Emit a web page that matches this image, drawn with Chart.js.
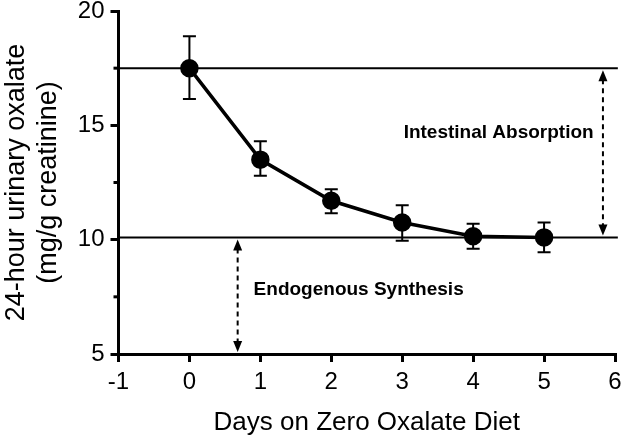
<!DOCTYPE html>
<html>
<head>
<meta charset="utf-8">
<script src="https://cdn.jsdelivr.net/npm/chart.js@4/dist/chart.umd.min.js"></script>
<style>
  html, body { margin: 0; padding: 0; background: #fff; }
  #wrap { width: 643px; height: 440px; }
</style>
</head>
<body>
<div id="wrap"><canvas id="oxChart"></canvas></div>
<script>
// data
const days = [0, 1, 2, 3, 4, 5];
const oxalate = [17.5, 13.5, 11.7, 10.75, 10.15, 10.1];
const errHigh = [18.9, 14.3, 12.2, 11.5, 10.7, 10.75];
const errLow = [16.15, 12.8, 11.15, 9.95, 9.6, 9.45];
const upperLevel = 17.5;
const lowerLevel = 10.1;
const xTicks = [-1, 0, 1, 2, 3, 4, 5, 6];
const yTicks = [5, 10, 15, 20];

const FONT = "'Liberation Sans', Arial, sans-serif";

// error bars, arrows, minor ticks and the two labels
const extras = {
    id: 'extras',
    beforeDatasetsDraw(chart) {
        const ctx = chart.ctx;
        const xs = chart.scales.x, ys = chart.scales.y;
        ctx.save();
        ctx.strokeStyle = '#000';
        ctx.lineWidth = 2;
        days.forEach((d, i) => {
            const px = xs.getPixelForValue(d);
            const top = ys.getPixelForValue(errHigh[i]);
            const bot = ys.getPixelForValue(errLow[i]);
            ctx.beginPath();
            ctx.moveTo(px, top); ctx.lineTo(px, bot);
            ctx.moveTo(px - 6.5, top); ctx.lineTo(px + 6.5, top);
            ctx.moveTo(px - 6.5, bot); ctx.lineTo(px + 6.5, bot);
            ctx.stroke();
        });

        // short minor ticks on the y axis
        ctx.lineWidth = 3;
        ys.ticks.filter(t => !yTicks.includes(t.value)).forEach(t => {
            const py = ys.getPixelForValue(t.value);
            ctx.beginPath();
            ctx.moveTo(ys.right, py); ctx.lineTo(ys.right - 5, py);
            ctx.stroke();
        });
        ctx.restore();
    },
    afterDatasetsDraw(chart) {
        const ctx = chart.ctx;
        const xs = chart.scales.x, ys = chart.scales.y;

        const arrow = (xv, y1v, y2v) => {
            const px = xs.getPixelForValue(xv);
            const a = ys.getPixelForValue(y1v) + 2;
            const b = ys.getPixelForValue(y2v) - 2;
            ctx.save();
            ctx.strokeStyle = '#000';
            ctx.fillStyle = '#000';
            ctx.lineWidth = 2;
            ctx.setLineDash([5, 4]);
            ctx.beginPath();
            ctx.moveTo(px, a + 9);
            ctx.lineTo(px, b - 9);
            ctx.stroke();
            ctx.setLineDash([]);
            ctx.beginPath();
            ctx.moveTo(px, a); ctx.lineTo(px - 4.5, a + 11); ctx.lineTo(px + 4.5, a + 11);
            ctx.closePath(); ctx.fill();
            ctx.beginPath();
            ctx.moveTo(px, b); ctx.lineTo(px - 4.5, b - 11); ctx.lineTo(px + 4.5, b - 11);
            ctx.closePath(); ctx.fill();
            ctx.restore();
        };
        arrow(5.83, upperLevel, lowerLevel);
        arrow(0.68, lowerLevel, 5);

        ctx.save();
        ctx.fillStyle = '#000';
        ctx.font = 'bold 19px ' + FONT;
        ctx.textBaseline = 'middle';
        ctx.textAlign = 'left';
        ctx.fillText('Intestinal Absorption', xs.getPixelForValue(3.02), ys.getPixelForValue(14.66));
        ctx.fillText('Endogenous Synthesis', xs.getPixelForValue(0.905), ys.getPixelForValue(7.8));
        ctx.restore();
    }
};

new Chart(document.getElementById('oxChart'), {
    type: 'scatter',
    data: {
        datasets: [
            {
                label: 'Oxalate',
                data: days.map((d, i) => ({ x: d, y: oxalate[i] })),
                showLine: true,
                borderColor: '#000',
                backgroundColor: '#000',
                borderWidth: 3.5,
                pointRadius: 7.5,
                pointHoverRadius: 7.5,
                order: 0
            },
            {
                label: 'upper',
                data: [{ x: -1, y: upperLevel }, { x: 6.04, y: upperLevel }],
                showLine: true,
                borderColor: '#000',
                borderWidth: 2,
                pointRadius: 0,
                clip: false,
                order: 1
            },
            {
                label: 'lower',
                data: [{ x: -1, y: lowerLevel }, { x: 6.04, y: lowerLevel }],
                showLine: true,
                borderColor: '#000',
                borderWidth: 2,
                pointRadius: 0,
                clip: false,
                order: 1
            }
        ]
    },
    options: {
        responsive: true,
        maintainAspectRatio: false,
        animation: false,
        layout: { padding: { left: 0, right: 28, top: 0, bottom: 2 } },
        plugins: {
            legend: { display: false },
            tooltip: { enabled: false }
        },
        scales: {
            x: {
                type: 'linear',
                min: -1,
                max: 6,
                afterBuildTicks: axis => { axis.ticks = xTicks.map(v => ({ value: v })); },
                border: { color: '#000', width: 3 },
                grid: { drawOnChartArea: false, color: '#000', lineWidth: 3, tickLength: 8 },
                ticks: { color: '#000', font: { family: FONT, size: 24 }, padding: 6 },
                title: {
                    display: true,
                    text: 'Days on Zero Oxalate Diet',
                    color: '#000',
                    font: { family: FONT, size: 26 },
                    padding: { top: 4, bottom: 0 }
                }
            },
            y: {
                type: 'linear',
                min: 5,
                max: 20,
                ticks: {
                    stepSize: 2.5,
                    color: '#000',
                    font: { family: FONT, size: 24, lineHeight: 0.33 },
                    padding: 6,
                    callback: v => (yTicks.includes(v) ? v : '')
                },
                border: { color: '#000', width: 3 },
                grid: {
                    drawOnChartArea: false,
                    color: c => (c.tick && yTicks.includes(c.tick.value) ? '#000' : 'rgba(0,0,0,0)'),
                    lineWidth: 3,
                    tickLength: 8
                },
                title: {
                    display: true,
                    text: ['24-hour urinary oxalate', '(mg/g creatinine)'],
                    color: '#000',
                    font: { family: FONT, size: 27 },
                    padding: { top: 0, bottom: 7 }
                }
            }
        }
    },
    plugins: [extras]
});
</script>
</body>
</html>
